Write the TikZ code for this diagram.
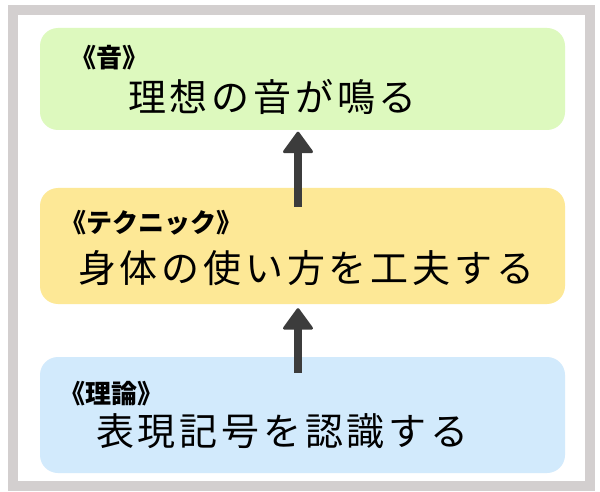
\documentclass[tikz,border=0pt]{standalone}
\usepackage{fontspec}
\usetikzlibrary{calc}
\newfontfamily\jp{Noto Sans CJK JP}
\newfontfamily\jpmain{Noto Sans CJK JP}[LetterSpace=10]
\definecolor{framegray}{HTML}{D3CFCF}
\definecolor{gfill}{HTML}{DDF9BE}
\definecolor{yfill}{HTML}{FDE896}
\definecolor{bfill}{HTML}{D2EAFC}
\definecolor{arrowc}{HTML}{3C3C3C}
\tikzset{
  box/.style={draw=none, rounded corners=18pt, minimum width=525pt, inner sep=0pt},
  lbl/.style={anchor=base west, inner sep=0pt, font=\jp\bfseries\fontsize{26pt}{29pt}\selectfont},
  main/.style={anchor=base west, inner sep=0pt, font=\jpmain\fontsize{38pt}{42pt}\selectfont},
  shaft/.style={draw=arrowc, line width=8pt},
  head/.style={fill=arrowc, draw=arrowc, line width=3pt, line join=round}
}
\begin{document}
\begin{tikzpicture}[x=1pt,y=-1pt]
\useasboundingbox (0,0) rectangle (600,492);
\fill[white] (0,0) rectangle (600,492);
\draw[framegray, line width=10pt] (13,10) rectangle (590,486);
% boxes
\node[box, fill=gfill, minimum height=102pt] (gbox) at (302.5,79) {};
\node[box, fill=yfill, minimum height=116pt] (ybox) at (302.5,246) {};
\node[box, fill=bfill, minimum height=116pt] (bbox) at (302.5,415) {};
% texts
\node[lbl] (glbl) at (70.5,68) {《音》};
\node[main] (gmain) at (128,112) {理想の音が鳴る};
\node[lbl] (ylbl) at (60.5,233) {《テクニック》};
\node[main] (ymain) at (78,282) {身体の使い方を工夫する};
\node[lbl] (blbl) at (59.5,403) {《理論》};
\node[main] (bmain) at (96,445) {表現記号を認識する};
% arrows
\coordinate (a1s) at ($(ybox.north)+(-4.5,19)$);
\coordinate (a1t) at ($(gbox.south)+(-4.5,1.5)$);
\coordinate (a2s) at ($(bbox.north)+(-4.5,16)$);
\coordinate (a2t) at ($(ybox.south)+(-4.5,4)$);
\draw[shaft] (a1s) -- ($(a1t)+(0,19)$);
\filldraw[head] ($(a1t)+(0,1.5)$) -- ($(a1t)+(-13.5,20)$) -- ($(a1t)+(13.5,20)$) -- cycle;
\draw[shaft] (a2s) -- ($(a2t)+(0,19)$);
\filldraw[head] ($(a2t)+(0,1.5)$) -- ($(a2t)+(-13.5,20)$) -- ($(a2t)+(13.5,20)$) -- cycle;
\end{tikzpicture}
\end{document}
